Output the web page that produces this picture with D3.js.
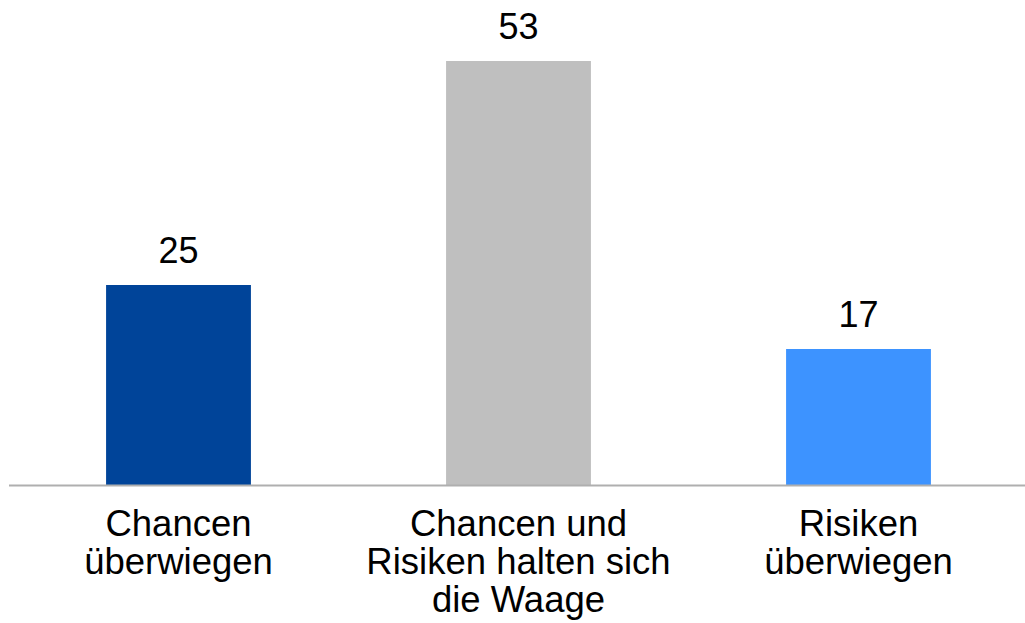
<!DOCTYPE html>
<html><head><meta charset="utf-8">
<script src="https://cdn.jsdelivr.net/npm/d3@7"></script>
<style>html,body{margin:0;padding:0;background:#fff;}svg{display:block;}</style>
</head><body>
<svg id="c" width="1025" height="623"></svg>
<script>
const categories = ["Chancen überwiegen", "Chancen und Risiken halten sich die Waage", "Risiken überwiegen"];
const labelLines = [["Chancen", "überwiegen"], ["Chancen und", "Risiken halten sich", "die Waage"], ["Risiken", "überwiegen"]];
const values = [25, 53, 17];
const colors = ["#004499", "#BFBFBF", "#3D93FF"];

const svg = d3.select("#c");
const font = "'Liberation Sans', Arial, sans-serif";
const baseY = 485;
const x = d3.scaleBand().domain(categories).range([8.5, 1028.5]).paddingInner(0.574).paddingOuter(0.287);
const y = d3.scaleLinear().domain([0, 53]).range([baseY, 61]);

svg.selectAll("rect.bar").data(values).join("rect")
  .attr("class", "bar")
  .attr("x", (d, i) => x(categories[i]))
  .attr("width", x.bandwidth())
  .attr("y", d => y(d))
  .attr("height", d => baseY - y(d))
  .attr("fill", (d, i) => colors[i]);

svg.append("line").attr("x1", 9).attr("x2", 1025).attr("y1", baseY + 0.5).attr("y2", baseY + 0.5)
  .attr("stroke", "#AFAFAF").attr("stroke-width", 2);

svg.selectAll("text.val").data(values).join("text")
  .attr("class", "val")
  .attr("x", (d, i) => x(categories[i]) + x.bandwidth() / 2)
  .attr("y", d => y(d) - 22)
  .attr("text-anchor", "middle")
  .attr("font-family", font).attr("font-size", 36).attr("fill", "#000")
  .text(d => d);

labelLines.forEach((lines, i) => {
  const t = svg.append("text")
    .attr("x", x(categories[i]) + x.bandwidth() / 2)
    .attr("y", 536)
    .attr("text-anchor", "middle")
    .attr("font-family", font).attr("font-size", 36.5).attr("fill", "#000");
  lines.forEach((l, j) => {
    t.append("tspan").attr("x", x(categories[i]) + x.bandwidth() / 2).attr("y", 536 + j * 38).text(l);
  });
});
</script>
</body></html>
